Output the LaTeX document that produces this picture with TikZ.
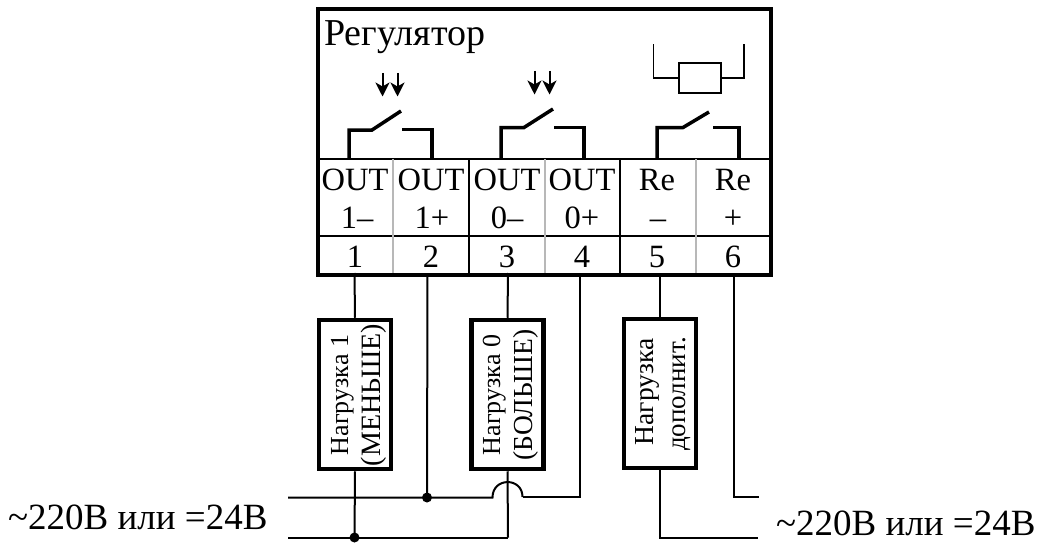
\documentclass[tikz,border=0pt]{standalone}
\usepackage{fontspec}
\setmainfont{Liberation Serif}
\newcommand{\fs}[1]{\fontsize{#1}{#1}\selectfont}
\usetikzlibrary{arrows.meta}
\tikzset{
  wire/.style={line width=2pt},
  sw/.style={line width=3.5pt,line join=miter},
  thin sep/.style={line width=1.6pt,black!28},
  sep/.style={line width=2pt},
  load/.style={draw,line width=4.5pt,fill=white,inner sep=0pt},
  lab/.style={inner sep=0pt,font=\fs{32.5}},
  dot/.style={circle,fill=black,inner sep=0pt,minimum size=10pt},
  vt/.style={inner sep=0pt,rotate=90,font=\fs{26}},
  fall/.style={line width=2pt,-{Stealth[length=14pt,width=14pt,inset=4pt]}},
}
\begin{document}
\begin{tikzpicture}[x=1pt,y=-1pt]
\useasboundingbox (0,0) rectangle (1041,543);
\fill[white] (0,0) rectangle (1041,543);
% internal rows
\draw[sep] (318,159) -- (771,159);
\draw[sep] (318,236) -- (771,236);
\foreach \x in {393,545,696} \draw[thin sep] (\x,159) -- (\x,275);
\foreach \x in {469,620} \draw[sep] (\x,159) -- (\x,275);
% switches
\draw[sw] (349,159) -- (349,130) -- (372,130) -- (401,111);
\draw[sw] (402,129.5) -- (432,129.5) -- (432,159);
\draw[sw] (501,159) -- (501,127.5) -- (524,127.5) -- (553,109);
\draw[sw] (554,127.5) -- (584,127.5) -- (584,159);
\draw[sw] (657,159) -- (657,127.5) -- (683,127.5) -- (709,112);
\draw[sw] (713,127.5) -- (739,127.5) -- (739,159);
% arrows
\draw[fall] (382.5,73) -- (382.5,96.5);
\draw[fall] (397.5,73) -- (397.5,96.5);
\draw[fall] (534.5,71) -- (534.5,94.5);
\draw[fall] (549.5,71) -- (549.5,94.5);
% resistor symbol
\node[draw,line width=1.6pt,minimum width=42pt,minimum height=30pt,inner sep=0pt] (res) at (700,78) {};
\draw[line width=1.6pt] (res.west) -- (653.5,78) -- (653.5,44);
\draw[line width=1.6pt] (res.east) -- (744,78) -- (744,44);
% frame
\node[draw,line width=4.5pt,minimum width=453pt,minimum height=265.5pt,inner sep=0pt] (reg) at (544.5,142) {};
\node[inner sep=0pt,anchor=base west,font=\fs{38}] (title) at (324,46) {Регулятор};
% terminal labels
\node[lab,anchor=base] (o1) at (355,190) {OUT};
\node[lab,anchor=base] (o2) at (431,190) {OUT};
\node[lab,anchor=base] (o3) at (507,190) {OUT};
\node[lab,anchor=base] (o4) at (582,190) {OUT};
\node[lab,anchor=base] (o5) at (657,190) {Re};
\node[lab,anchor=base] (o6) at (733,190) {Re};
\node[lab,anchor=base] (p1) at (357,228) {1–};
\node[lab,anchor=base] (p2) at (432,228) {1+};
\node[lab,anchor=base] (p3) at (507,228) {0–};
\node[lab,anchor=base] (p4) at (582,228) {0+};
\node[lab,anchor=base] (p5) at (658,228) {–};
\node[lab,anchor=base] (p6) at (733,228) {+};
\node[lab,anchor=base] (t1) at (355,267) {1};
\node[lab,anchor=base] (t2) at (431,267) {2};
\node[lab,anchor=base] (t3) at (507,267) {3};
\node[lab,anchor=base] (t4) at (582,267) {4};
\node[lab,anchor=base] (t5) at (657,267) {5};
\node[lab,anchor=base] (t6) at (733,267) {6};
% anchors on the terminal row
\coordinate (w1) at (354.5,273);
\coordinate (w2) at (427.5,273);
\coordinate (w3) at (508,273);
\coordinate (w4) at (580,273);
\coordinate (w5) at (660,273);
\coordinate (w6) at (733.5,273);
% load boxes
\node[load,minimum width=72pt,minimum height=149pt] (l1) at (355,394.5) {};
\node[load,minimum width=72pt,minimum height=149pt] (l2) at (507.5,394.5) {};
\node[load,minimum width=72pt,minimum height=149pt] (l3) at (660,393.5) {};
\node[vt,anchor=base] (l1a) at (348,395) {Нагрузка 1};
\node[vt,anchor=base,font=\fs{28}] (l1b) at (380,395) {(МЕНЬШЕ)};
\node[vt,anchor=base] (l2a) at (500,395) {Нагрузка 0};
\node[vt,anchor=base,font=\fs{27.5}] (l2b) at (532.5,395) {(БОЛЬШЕ)};
\node[vt,anchor=base,font=\fs{27.5}] (l3a) at (653,392) {Нагрузка};
\node[vt,anchor=base,font=\fs{27}] (l3b) at (685,394) {дополнит.};
% outgoing wires
\coordinate (r1l) at (288,497.5);
\coordinate (r2l) at (288,537.5);
\node[dot] (d1) at (427,497.5) {};
\node[dot] (d2) at (354.5,537.5) {};
\coordinate (h1) at (492.5,497.5);
\coordinate (h2) at (522.5,497);
\coordinate (c4) at (580,497);
\coordinate (c3) at (508,537.5);
\coordinate (c5) at (660,537.5);
\coordinate (e5) at (757.5,537.5);
\coordinate (c6) at (733.5,496.5);
\coordinate (e6) at (758.5,496.5);
\draw[wire] (w1) -- (l1.north);
\draw[wire] (l1.south) -- (d2.center);
\draw[wire] (w2) -- (d1.center);
\draw[wire] (w3) -- (l2.north);
\draw[wire] (l2.south) -- (c3);
\draw[wire] (w4) -- (c4) -- (h2);
\draw[wire] (r1l) -- (h1) .. controls (492.5,477) and (522.5,477) .. (h2);
\draw[wire] (r2l) -- (c3);
\draw[wire] (w5) -- (l3.north);
\draw[wire] (l3.south) -- (c5) -- (e5);
\draw[wire] (w6) -- (c6) -- (e6);
% supply labels
\node[inner sep=0pt,anchor=base west,font=\fs{37}] (s1) at (8,529) {\char"007E 220В или =24В};
\node[inner sep=0pt,anchor=base west,font=\fs{37}] (s2) at (776,535) {\char"007E 220В или =24В};
\end{tikzpicture}
\end{document}
